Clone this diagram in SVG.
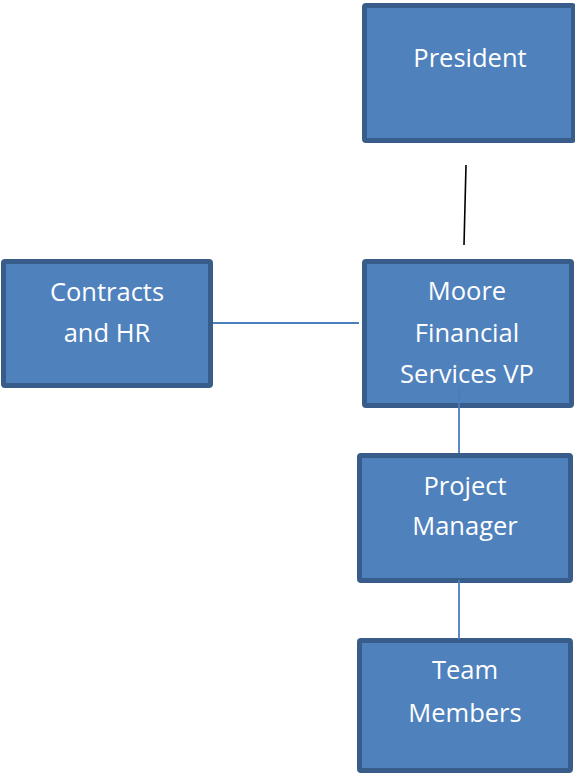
<svg xmlns="http://www.w3.org/2000/svg" width="575" height="773" viewBox="0 0 575 773">
  <style>
    .box { fill: #4F81BD; stroke: #385D8A; stroke-width: 5; }
    .label { fill: #FFFFFF; font-family: "Open Sans", "Liberation Sans", sans-serif; font-size: 25.5px; text-anchor: middle; }
    .link { stroke: #4A7EBB; stroke-width: 1.8; fill: none; }
    .link-dark { stroke: #000000; stroke-width: 1.6; fill: none; }
  </style>
  <rect width="575" height="773" fill="#FFFFFF"/>

  <g id="president">
    <rect class="box" x="364.5" y="5.5" width="209" height="135" rx="1.5"/>
    <text class="label" x="470" y="67">President</text>
  </g>

  <g id="contracts-hr">
    <rect class="box" x="3.5" y="261.5" width="207" height="124" rx="1.5"/>
    <text class="label" x="107" y="300.5">Contracts</text>
    <text class="label" x="107" y="342">and HR</text>
  </g>

  <g id="vp">
    <rect class="box" x="364.5" y="261.5" width="207" height="144" rx="1.5"/>
    <text class="label" x="467" y="300">Moore</text>
    <text class="label" x="467" y="341.5">Financial</text>
    <text class="label" x="467" y="382.5">Services VP</text>
  </g>

  <g id="project-manager">
    <rect class="box" x="359.5" y="455.5" width="211" height="125" rx="1.5"/>
    <text class="label" x="465" y="495">Project</text>
    <text class="label" x="465" y="535">Manager</text>
  </g>

  <g id="team-members">
    <rect class="box" x="359.5" y="640.5" width="211" height="130" rx="1.5"/>
    <text class="label" x="465" y="679">Team</text>
    <text class="label" x="465" y="722">Members</text>
  </g>

  <g id="connectors">
    <line class="link-dark" x1="466" y1="165" x2="464" y2="245"/>
    <line class="link" x1="213" y1="323" x2="359" y2="323"/>
    <line class="link" x1="459" y1="387" x2="459" y2="453"/>
    <line class="link" x1="459" y1="580" x2="459" y2="639"/>
  </g>
</svg>
